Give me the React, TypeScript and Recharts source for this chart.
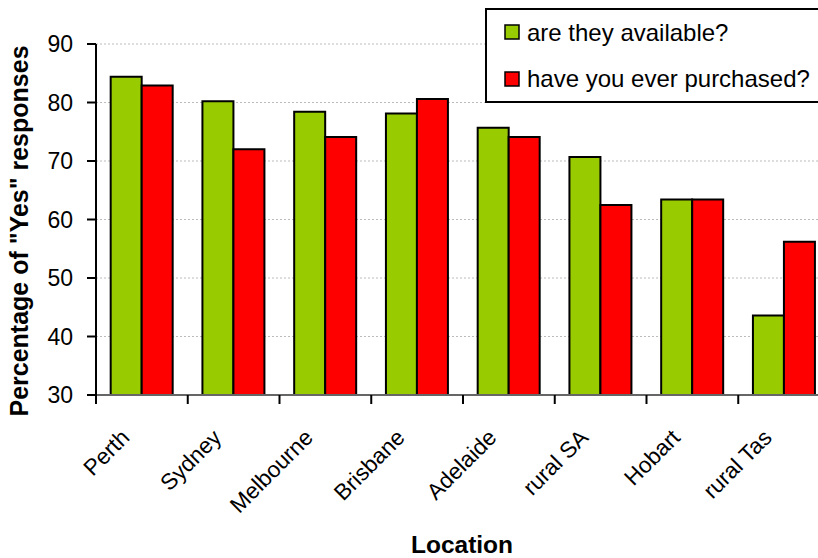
import React from 'react';
import {
  BarChart,
  Bar,
  XAxis,
  YAxis,
  CartesianGrid,
  Legend
} from 'recharts';

const locations = ['Perth', 'Sydney', 'Melbourne', 'Brisbane', 'Adelaide', 'rural SA', 'Hobart', 'rural Tas'];
const availableValues = [84.4, 80.2, 78.4, 78.1, 75.7, 70.7, 63.4, 43.6];
const purchasedValues = [82.9, 72.0, 74.1, 80.6, 74.1, 62.5, 63.4, 56.2];
const yTicks = [30, 40, 50, 60, 70, 80, 90];

const seriesNames = ['are they available?', 'have you ever purchased?'];
const seriesColors = ['#99cc00', '#ff0000'];

const data = locations.map((location, i) => ({
  location,
  available: availableValues[i],
  purchased: purchasedValues[i],
}));

const FONT = '"Liberation Sans", Arial, sans-serif';
const CHART_W = 840;
const CHART_H = 558;
const Y_AXIS_W = 96;
const RIGHT_MARGIN = 10;
const PLOT_W = CHART_W - Y_AXIS_W - RIGHT_MARGIN;

const LocationTick = (props: any) => {
  const { x, y, payload } = props;
  const half = PLOT_W / locations.length / 2;
  const tx = x - 11;
  const ty = y + 44;
  return (
    <g>
      <line x1={x - half} x2={x - half} y1={y} y2={y + 9} stroke="#000" strokeWidth={2} />
      <text
        x={tx}
        y={ty}
        transform={`rotate(-45, ${tx}, ${ty})`}
        textAnchor="end"
        fontSize={22.5}
        fontFamily={FONT}
        fill="#000"
      >
        {payload.value}
      </text>
    </g>
  );
};

const LegendBox = () => (
  <svg width={370} height={96} style={{ display: 'block' }}>
    <rect x={1} y={1} width={366} height={93} fill="#fff" stroke="#000" strokeWidth={2} />
    {seriesNames.map((name, i) => (
      <g key={name}>
        <rect x={20} y={17 + i * 47} width={14} height={14} fill={seriesColors[i]} stroke="#000" strokeWidth={1.5} />
        <text x={42} y={33 + i * 46} fontSize={24} fontFamily={FONT} fill="#000">
          {name}
        </text>
      </g>
    ))}
  </svg>
);

const App: React.FC = () => {
  return (
    <div
      style={{
        position: 'absolute',
        left: 0,
        top: 0,
        width: 818,
        height: 558,
        overflow: 'hidden',
        background: '#fff',
        fontFamily: FONT,
      }}
    >
      <BarChart
        width={CHART_W}
        height={CHART_H}
        data={data}
        margin={{ top: 44, right: RIGHT_MARGIN, left: 0, bottom: 0 }}
        barCategoryGap="16%"
        barGap={0}
      >
        <CartesianGrid vertical={false} stroke="#bbbbbb" strokeDasharray="2 2" />
        <XAxis
          dataKey="location"
          height={163}
          tick={<LocationTick />}
          tickLine={false}
          tickSize={0}
          tickMargin={0}
          interval={0}
          axisLine={{ stroke: '#666', strokeWidth: 2 }}
          label={{
            content: () => (
              <text x={462} y={553} textAnchor="middle" fontSize={24.5} fontWeight="bold" fontFamily={FONT} fill="#000">
                Location
              </text>
            ),
          }}
        />
        <YAxis
          width={Y_AXIS_W}
          domain={[30, 90]}
          ticks={yTicks}
          allowDataOverflow
          tickSize={9}
          tickMargin={14}
          tickLine={{ stroke: '#000', strokeWidth: 2 }}
          axisLine={{ stroke: '#000', strokeWidth: 2 }}
          tick={{ fontSize: 23, fill: '#000', fontFamily: FONT }}
          label={{
            content: () => (
              <text
                x={28}
                y={231}
                transform="rotate(-90, 28, 231)"
                textAnchor="middle"
                fontSize={25}
                fontWeight="bold"
                fontFamily={FONT}
                fill="#000"
              >
                Percentage of "Yes" responses
              </text>
            ),
          }}
        />
        <Legend
          layout="horizontal"
          align="center"
          verticalAlign="middle"
          content={() => <LegendBox />}
          wrapperStyle={{ left: 485, top: 8, width: 370, height: 96 }}
        />
        <Bar dataKey="available" name={seriesNames[0]} fill={seriesColors[0]} stroke="#000" strokeWidth={2} isAnimationActive={false} />
        <Bar dataKey="purchased" name={seriesNames[1]} fill={seriesColors[1]} stroke="#000" strokeWidth={2} isAnimationActive={false} />
      </BarChart>
    </div>
  );
};

export default App;
